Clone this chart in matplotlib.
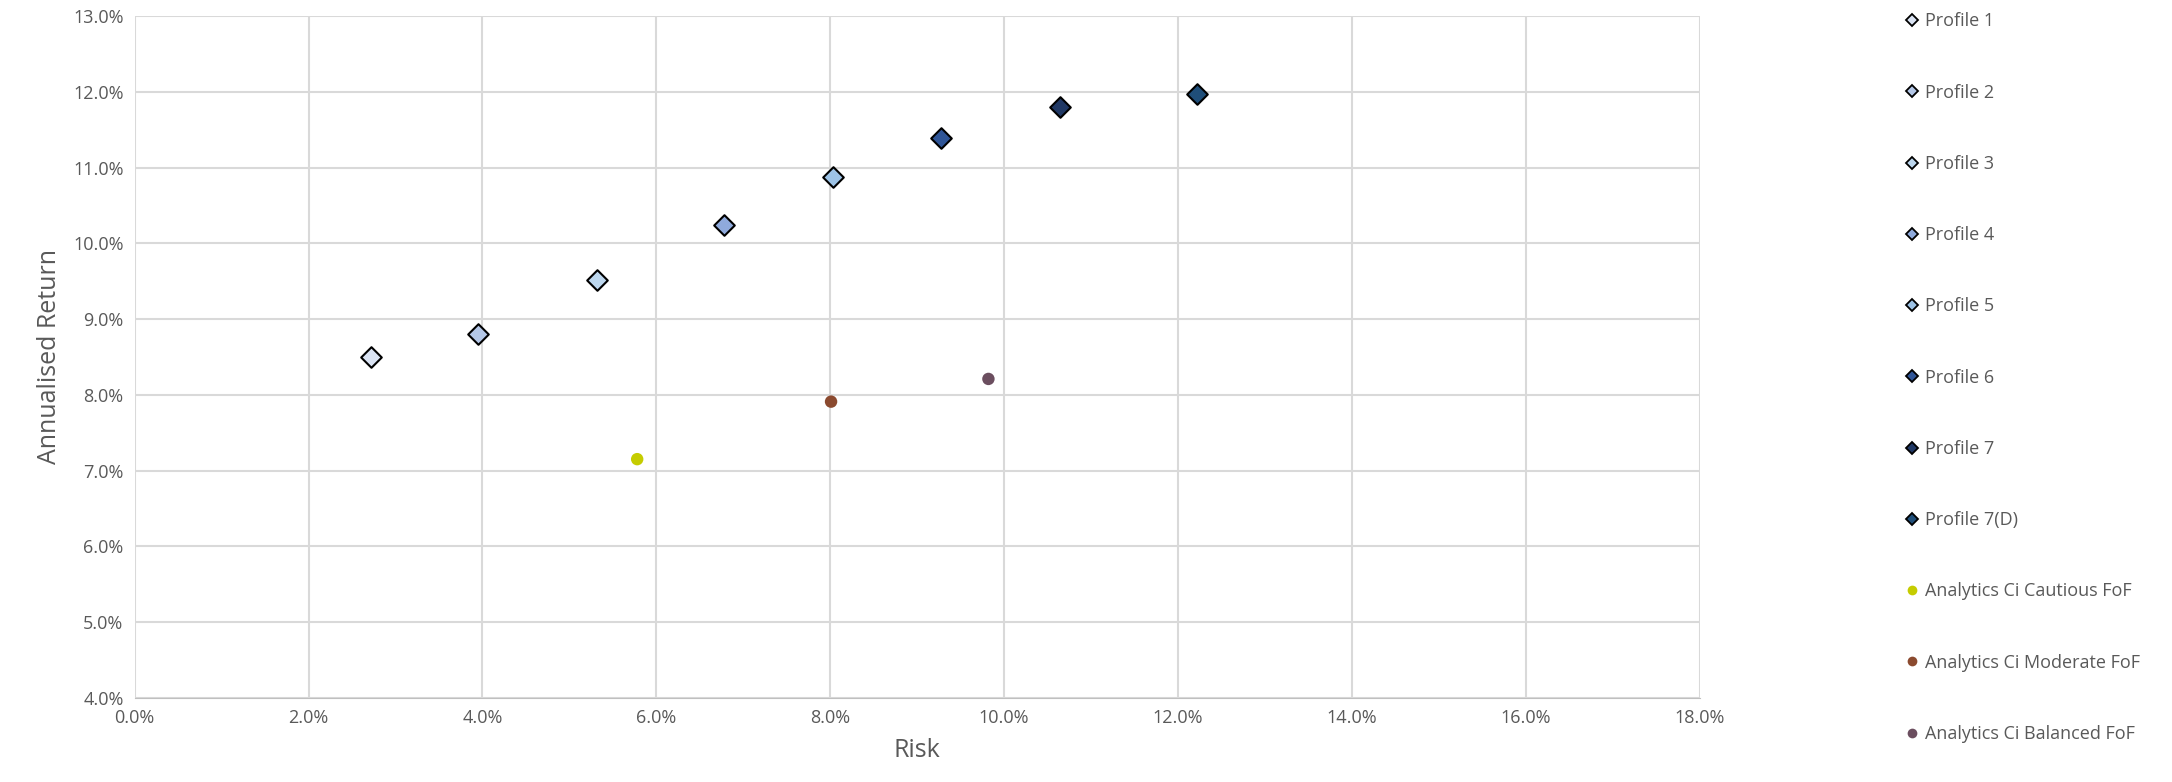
import matplotlib
matplotlib.use("Agg")
import matplotlib.pyplot as plt
from matplotlib.lines import Line2D
from matplotlib.ticker import PercentFormatter

plt.rcParams['font.family'] = ['Open Sans', 'DejaVu Sans']

profile_names = ["Profile 1", "Profile 2", "Profile 3", "Profile 4",
                 "Profile 5", "Profile 6", "Profile 7", "Profile 7(D)"]
profile_risk = [2.72, 3.95, 5.32, 6.78, 8.03, 9.28, 10.64, 12.22]
profile_return = [8.50, 8.81, 9.52, 10.25, 10.88, 11.40, 11.80, 11.97]
profile_colors = ["#DAE3F3", "#B4C7E7", "#BDD7EE", "#8FAADC",
                  "#9DC3E6", "#2F5597", "#203864", "#1F4E79"]

fund_names = ["Analytics Ci Cautious FoF", "Analytics Ci Moderate FoF",
              "Analytics Ci Balanced FoF"]
fund_risk = [5.78, 8.01, 9.82]
fund_return = [7.15, 7.91, 8.21]
fund_colors = ["#C5CC00", "#8B4A2F", "#6B4E5F"]

text_gray = "#595959"

fig = plt.figure(figsize=(21.72, 7.82), dpi=100)
ax = fig.add_axes([0.062, 0.108, 0.7205, 0.871])

handles = []
for name, x, y, c in zip(profile_names, profile_risk, profile_return, profile_colors):
    ax.scatter(x, y, marker="D", s=110, c=c, edgecolors="black",
               linewidths=1.5, zorder=3)
    handles.append(Line2D([], [], ls="none", marker="D", markersize=6,
                          markerfacecolor=c, markeredgecolor="black",
                          markeredgewidth=1.3, label=name))
for name, x, y, c in zip(fund_names, fund_risk, fund_return, fund_colors):
    ax.scatter(x, y, marker="o", s=80, c=c, edgecolors="none", zorder=3)
    handles.append(Line2D([], [], ls="none", marker="o", markersize=7,
                          markerfacecolor=c, markeredgecolor="none", label=name))

ax.set_xlim(0, 18)
ax.set_ylim(4, 13)
ax.set_xticks(range(0, 19, 2))
ax.set_yticks(range(4, 14))
ax.xaxis.set_major_formatter(PercentFormatter(decimals=1))
ax.yaxis.set_major_formatter(PercentFormatter(decimals=1))
ax.grid(True, color="#D9D9D9", linewidth=1.5)
ax.set_axisbelow(True)
for side in ["top", "right", "left"]:
    ax.spines[side].set_visible(False)
ax.spines["bottom"].set_color("#BFBFBF")
ax.tick_params(length=0, labelsize=13, colors=text_gray, pad=8)
ax.set_xlabel("Risk", fontsize=18, color=text_gray, labelpad=8)
ax.set_ylabel("Annualised Return", fontsize=18, color=text_gray, labelpad=8)

leg = fig.legend(handles=handles, loc="upper left", bbox_to_anchor=(0.868, 1.005),
                 frameon=False, fontsize=13, labelspacing=2.95,
                 handletextpad=0.1, handlelength=1.2)
for t in leg.get_texts():
    t.set_color(text_gray)

fig.savefig("out.png", dpi=100)
